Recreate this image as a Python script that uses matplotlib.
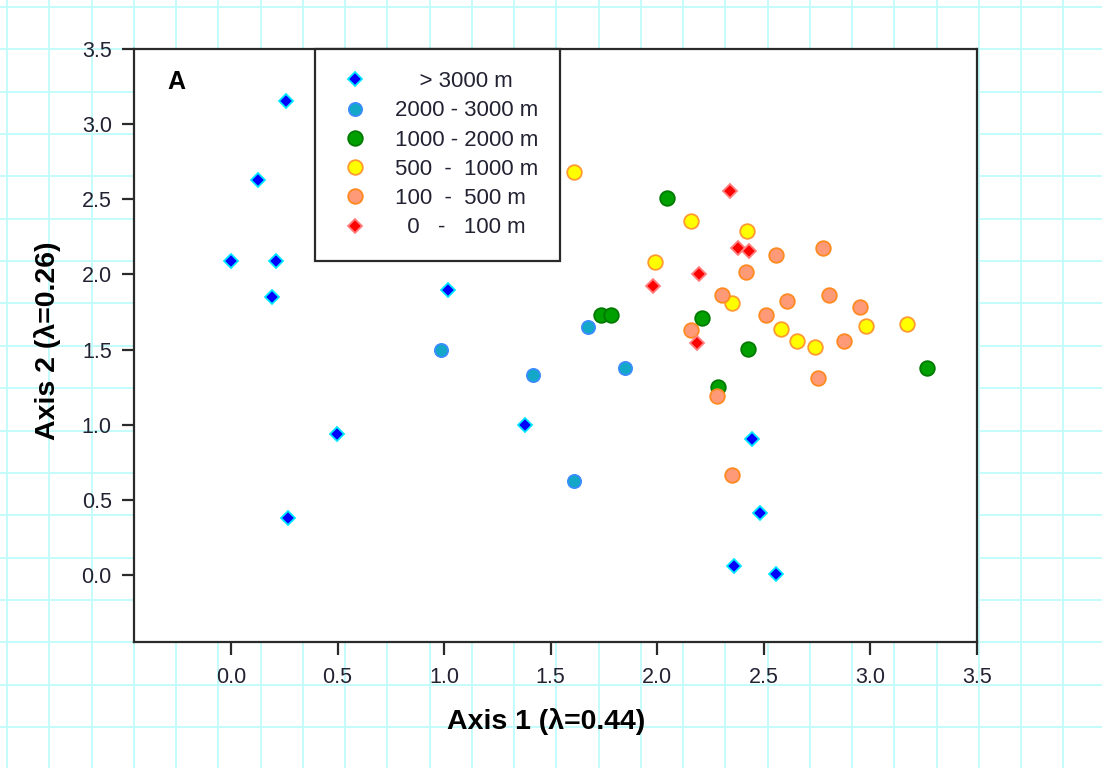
import matplotlib
matplotlib.use("Agg")
import matplotlib.pyplot as plt
from matplotlib.lines import Line2D

# ---- data ----
gt3000_x = [0.258, 0.125, 0.000, 0.210, 0.192, 1.017, 0.497, 0.267, 1.380, 2.443, 2.483, 2.361, 2.557]
gt3000_y = [3.151, 2.625, 2.086, 2.086, 1.853, 1.897, 0.939, 0.379, 0.999, 0.905, 0.415, 0.062, 0.004]

d2000_x = [0.985, 1.417, 1.609, 1.677, 1.849]
d2000_y = [1.498, 1.332, 0.626, 1.649, 1.378]

d1000_x = [2.044, 1.736, 1.781, 2.211, 2.426, 2.286, 3.264]
d1000_y = [2.508, 1.731, 1.731, 1.709, 1.507, 1.250, 1.378]

d500_x = [1.609, 2.158, 2.421, 1.989, 2.352, 2.582, 2.657, 2.739, 2.978, 3.172]
d500_y = [2.683, 2.355, 2.292, 2.084, 1.813, 1.638, 1.556, 1.520, 1.658, 1.669]

d100_x = [2.557, 2.779, 2.418, 2.302, 2.607, 2.806, 2.951, 2.509, 2.158, 2.878, 2.756, 2.279, 2.352]
d100_y = [2.130, 2.179, 2.013, 1.860, 1.822, 1.862, 1.780, 1.733, 1.627, 1.556, 1.309, 1.192, 0.666]

d0_x = [2.343, 2.377, 2.432, 2.197, 1.981, 2.186]
d0_y = [2.552, 2.179, 2.157, 2.004, 1.924, 1.545]

labels = ["    > 3000 m", "2000 - 3000 m", "1000 - 2000 m", "500  -  1000 m", "100  -  500 m", "  0   -   100 m"]
ticks = [0.0, 0.5, 1.0, 1.5, 2.0, 2.5, 3.0, 3.5]
xlabel = "Axis 1 (λ=0.44)"
ylabel = "Axis 2 (λ=0.26)"
panel = "A"

plt.rcParams['font.family'] = ['Liberation Sans', 'DejaVu Sans']

W, H = 1102, 768
fig = plt.figure(figsize=(W / 100, H / 100), dpi=100)
fig.patch.set_facecolor('white')

# background graph-paper grid
gcol = '#c4fbfb'
k = 0
while 7 + 42.25 * k < W:
    x = (7 + 42.25 * k) / W
    fig.add_artist(Line2D([x, x], [0, 1], transform=fig.transFigure, color=gcol, lw=1.4, zorder=0))
    k += 1
k = 0
while 7 + 42.35 * k < H:
    y = 1 - (7 + 42.35 * k) / H
    fig.add_artist(Line2D([0, 1], [y, y], transform=fig.transFigure, color=gcol, lw=1.4, zorder=0))
    k += 1

ax = fig.add_axes([134 / W, 1 - 642 / H, (977 - 134) / W, (642 - 49) / H])
ax.set_facecolor('white')
ax.set_zorder(2)

styles = [
    (gt3000_x, gt3000_y, 'D', 7.5, '#0000ff', '#00e8ff'),
    (d2000_x, d2000_y, 'o', 9.5, '#14a8c8', '#3a8cff'),
    (d1000_x, d1000_y, 'o', 10.5, '#00a000', '#007a00'),
    (d500_x, d500_y, 'o', 10.5, '#ffff00', '#ff9a30'),
    (d100_x, d100_y, 'o', 10.5, '#ff9a78', '#ff8a20'),
    (d0_x, d0_y, 'D', 7.5, '#ff0000', '#ff8080'),
]
handles = []
for (xs, ys, m, ms, fc, ec), lab in zip(styles, labels):
    h, = ax.plot(xs, ys, linestyle='none', marker=m, markersize=ms,
                 markerfacecolor=fc, markeredgecolor=ec, markeredgewidth=1.3,
                 label=lab, zorder=3)
    handles.append(h)

ax.set_xlim(-0.455, 3.5)
ax.set_ylim(-0.446, 3.5)
ax.set_xticks(ticks)
ax.set_yticks(ticks)
ax.set_xticklabels([f"{t:.1f}" for t in ticks])
ax.set_yticklabels([f"{t:.1f}" for t in ticks])

for s in ax.spines.values():
    s.set_color('#2a2a2a')
    s.set_linewidth(1.6)
ax.tick_params(direction='out', length=9, width=1.6, color='#2a2a2a',
               labelsize=15.5, labelcolor='#222233')
ax.tick_params(axis='x', pad=9)
ax.tick_params(axis='y', pad=7)

ax.set_xlabel(xlabel, fontsize=20.5, fontweight='bold')
ax.set_ylabel(ylabel, fontsize=20.5, fontweight='bold')
ax.xaxis.set_label_coords(0.4887, -0.111)
ax.yaxis.set_label_coords(-0.087, 0.5076)

ax.text(0.04, 0.965, panel, transform=ax.transAxes, fontsize=18,
        fontweight='bold', va='top', ha='left')

leg = ax.legend(handles=handles, loc='upper left', bbox_to_anchor=(0.2147, 1.0),
                borderaxespad=0, fontsize=16, frameon=True, fancybox=False,
                framealpha=1, edgecolor='#2a2a2a', borderpad=1.0,
                handlelength=1.63, handletextpad=0.95, labelspacing=0.37)
leg.get_frame().set_linewidth(1.6)
for t in leg.get_texts():
    t.set_color('#222233')

fig.savefig('out.png', dpi=100)
